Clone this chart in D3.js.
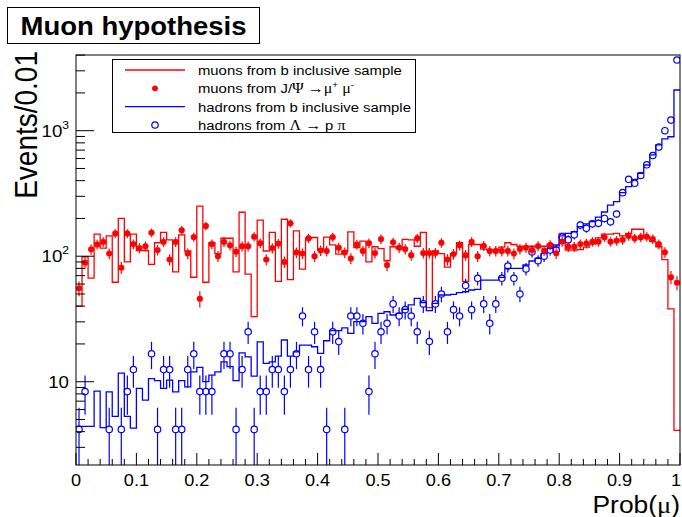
<!DOCTYPE html>
<html>
<head>
<meta charset="utf-8">
<script src="https://cdn.jsdelivr.net/npm/d3@7"></script>
<style>
  html, body { margin: 0; padding: 0; background: #fff; }
  svg { display: block; }
  text { font-family: "Liberation Sans", Arial, Helvetica, sans-serif; fill: #000; }
  .greek { font-family: "Liberation Serif", "DejaVu Serif", serif; }
</style>
</head>
<body>
<svg id="chart" width="682" height="517"></svg>
<script>
// Prob(mu) distribution, 100 bins of width 0.01 on [0, 1]

// muons from b inclusive sample (histogram outline)
const muonsBInclusive = [
  40, 99, 67, 150, 116, 145, 62, 200, 90, 150,
  111, 111, 86, 128, 155, 135, 75, 148, 110, 68,
  251, 62, 128, 105, 139, 139, 75, 224, 72, 33,
  194, 110, 155, 63, 197, 65, 159, 79, 139, 141,
  112, 142, 123, 104, 110, 156, 117, 132, 90, 119,
  115, 92, 119, 115, 136, 135, 120, 155, 39, 110,
  105, 82, 105, 128, 63, 124, 124, 114, 112, 112,
  118, 128, 124, 120, 118, 120, 118, 120, 125, 118,
  152, 112, 112, 113, 118, 125, 140, 150, 150, 152,
  145, 152, 164, 164, 143, 131, 119, 94, 38, 4.1
];

// muons from J/Psi -> mu+ mu- (filled markers)
const muonsJpsi = [
  55.5, 88.8, 113.5, 124, 130, 105, 152, 81, 152, 125,
  116, 120, 154, 112, 130, 94, 130, 161, 105, 142,
  45.8, 174, 125, 100, 130, 122, 108.6, 120, 120, 143,
  127, 94, 116, 126, 90, 183, 107, 105, 139, 100,
  111, 110, 142, 117, 107, 96, 124, 110, 127, 106,
  137, 85, 129, 117, 114, 102, 139, 106, 106, 106,
  128, 94, 104, 122, 102, 130, 100, 121, 110, 110,
  110, 110, 105, 114, 117, 112, 120.5, 110.7, 122.8, 105.4,
  130.6, 119, 119, 125, 126.7, 130.6, 130.6, 141.6, 130.6, 133,
  135, 145, 139, 141.6, 143, 137, 124.5, 107.4, 68, 61.5
];

// hadrons from b inclusive sample (histogram outline)
const hadronsBInclusive = [
  4.4, 4.4, 4.4, 8.4, 4.3, 8.3, 5.3, 11.7, 5.3, 4.27,
  8.85, 7.14, 10.6, 10.2, 8.85, 10.3, 8.3, 10.2, 9.1, 12.0,
  13.0, 10.0, 11.3, 12.0, 14.4, 13.2, 10.2, 17.0, 15.8, 11.1,
  20.8, 14.0, 14.4, 16.0, 21.5, 16.0, 17.3, 19.6, 19.6, 19.0,
  16.8, 21.2, 25.5, 25.5, 26.9, 24.3, 30.1, 30.1, 33.0, 29.2,
  35.1, 36.1, 34.0, 35.1, 37.8, 40.9, 46.2, 42.6, 36.8, 42.1,
  49.1, 49.1, 49.7, 51.2, 52.1, 53.8, 54.5, 64.6, 64.6, 64.6,
  67.9, 80.1, 80.1, 80.1, 85.1, 91.6, 96.2, 105.4, 115.6, 122.8,
  145, 152, 157, 172, 181, 189, 205, 225, 255, 272,
  321, 358, 410, 458, 533, 641, 770, 860, 895, 2110
];

// hadrons from Lambda -> p pi (open markers); empty bins are 0
const hadronsLambda = [
  4.17, 8.34, 0, 0, 0, 4.17, 0, 4.17, 8.34, 12.5,
  0, 0, 16.7, 4.17, 12.5, 12.5, 4.17, 4.17, 12.5, 16.7,
  8.34, 8.34, 8.34, 0, 16.7, 16.7, 4.17, 12.5, 25, 4.17,
  8.34, 8.34, 12.5, 12.5, 8.34, 12.5, 16.7, 33.4, 12.5, 25,
  12.5, 4.17, 25, 20.9, 4.17, 33.4, 33.4, 29.2, 8.34, 16.7,
  25, 29.2, 41.7, 33.4, 37.5, 33.4, 25, 41.7, 20.9, 41.7,
  50, 25, 37.5, 33.4, 58.4, 37.5, 66.7, 41.7, 29.2, 41.7,
  66.7, 83.4, 66.7, 50, 79.2, 108, 92, 100, 112, 112,
  142, 135, 148, 177, 167, 181, 183, 200, 188, 217,
  321, 410, 381, 440, 535, 634, 740, 1000, 1215, 3660
];

const xTickValues = [0, 0.1, 0.2, 0.3, 0.4, 0.5, 0.6, 0.7, 0.8, 0.9, 1];
const xTickLabels = ["0", "0.1", "0.2", "0.3", "0.4", "0.5", "0.6", "0.7", "0.8", "0.9", "1"];
const yTickValues = [10, 100, 1000];
const yTickBase = ["10", "10", "10"];
const yTickExponent = ["", "2", "3"];

// legend entries as [text, isGreek, isSuperscript] pieces
const legendLabels = [
  [["muons from b inclusive sample", 0, 0]],
  [["muons from J/", 0, 0], ["\u03A8", 1, 0], [" \u2192", 1, 0], ["\u03BC", 1, 0], ["+", 0, 1], [" ", 0, 0], ["\u03BC", 1, 0], ["-", 0, 1]],
  [["hadrons from b inclusive sample", 0, 0]],
  [["hadrons from ", 0, 0], ["\u039B", 1, 0], [" \u2192 ", 1, 0], ["p ", 0, 0], ["\u03C0", 1, 0]]
];

const RED = "#ff0000";
const BLUE = "#0000ff";
const SX = 1.1;            // horizontal text stretch of the canvas
const NB = 100;

const svg = d3.select("#chart");
const frame = { left: 76, right: 680, top: 55, bottom: 465 };

const x = d3.scaleLinear().domain([0, 1]).range([frame.left, frame.right]);
const y = d3.scaleLog().domain([2.17, 4010]).range([frame.bottom, frame.top]);

svg.append("rect").attr("width", 682).attr("height", 517).attr("fill", "#fff");

svg.append("defs").append("clipPath").attr("id", "frameClip")
  .append("rect")
  .attr("x", frame.left).attr("y", frame.top)
  .attr("width", frame.right - frame.left).attr("height", frame.bottom - frame.top);

const plot = svg.append("g").attr("clip-path", "url(#frameClip)");

// text with the canvas' horizontal stretch
function stretched(parent, px, py, anchor, size, weight, rotate) {
  const g = parent.append("g")
    .attr("transform", `translate(${px},${py}) scale(${SX},1)` + (rotate ? ` rotate(${rotate})` : ""));
  return g.append("text")
    .attr("text-anchor", anchor)
    .attr("font-size", size)
    .attr("font-weight", weight || "normal");
}

// histogram outlines
const stepLine = d3.line()
  .x(d => x(d[0]))
  .y(d => y(Math.max(d[1], 0.01)))
  .curve(d3.curveStepAfter);

function histPoints(vals) {
  const pts = vals.map((v, i) => [i / NB, v]);
  pts.push([1, vals[vals.length - 1]]);
  return pts;
}

plot.append("path")
  .attr("d", stepLine(histPoints(muonsBInclusive)))
  .attr("fill", "none").attr("stroke", RED).attr("stroke-width", 1.3);

plot.append("path")
  .attr("d", stepLine(histPoints(hadronsBInclusive)))
  .attr("fill", "none").attr("stroke", BLUE).attr("stroke-width", 1.3);

// markers with statistical error bars
function markerSeries(vals, color, filled, r) {
  const data = vals.map((v, i) => ({ c: (i + 0.5) / NB, v })).filter(d => d.v > 0);
  const g = plot.append("g");
  data.forEach(d => {
    const e = Math.sqrt(d.v);
    const cx = x(d.c), cy = y(d.v);
    const yHi = y(d.v + e);
    const lo = d.v - e;
    const yLo = lo > y.domain()[0] ? y(lo) : frame.bottom + 2;
    if (cy - r > yHi) {
      g.append("line").attr("x1", cx).attr("x2", cx).attr("y1", yHi).attr("y2", cy - r)
        .attr("stroke", color).attr("stroke-width", 1.2);
    }
    if (yLo > cy + r) {
      g.append("line").attr("x1", cx).attr("x2", cx).attr("y1", cy + r).attr("y2", yLo)
        .attr("stroke", color).attr("stroke-width", 1.2);
    }
  });
  g.selectAll("circle").data(data).join("circle")
    .attr("cx", d => x(d.c)).attr("cy", d => y(d.v)).attr("r", r)
    .attr("fill", filled ? color : "none")
    .attr("stroke", color).attr("stroke-width", filled ? 0.5 : 1.2);
}

markerSeries(hadronsLambda, BLUE, false, 3.2);
markerSeries(muonsJpsi, RED, true, 2.9);

// frame
svg.append("rect")
  .attr("x", frame.left).attr("y", frame.top)
  .attr("width", frame.right - frame.left).attr("height", frame.bottom - frame.top)
  .attr("fill", "none").attr("stroke", "#000").attr("stroke-width", 1);

// x axis: ticks every 0.02, labels every 0.1
const xAxisG = svg.append("g");
d3.range(0, 51).forEach(k => {
  const v = k / 50;
  const major = k % 5 === 0;
  const px = x(v);
  xAxisG.append("line").attr("x1", px).attr("x2", px)
    .attr("y1", frame.bottom).attr("y2", frame.bottom - (major ? 12 : 6))
    .attr("stroke", "#000").attr("stroke-width", 1);
});
xTickValues.forEach((v, i) => {
  const px = Math.min(x(v), 676);
  stretched(xAxisG, px, 486, "middle", 16.5).text(xTickLabels[i]);
});

// y axis: logarithmic ticks
const yAxisG = svg.append("g");
const [ymin, ymax] = y.domain();
for (let dec = 1; dec <= 1000; dec *= 10) {
  for (let m = 1; m <= 9; m++) {
    const v = m * dec;
    if (v < ymin || v > ymax) continue;
    const py = y(v);
    yAxisG.append("line").attr("x1", frame.left).attr("x2", frame.left + (m === 1 ? 18 : 9))
      .attr("y1", py).attr("y2", py).attr("stroke", "#000").attr("stroke-width", 1);
  }
}
yTickValues.forEach((v, i) => {
  const t = stretched(yAxisG, 69, y(v) + 6, "end", 17);
  t.append("tspan").text(yTickBase[i]);
  if (yTickExponent[i]) {
    t.append("tspan").attr("font-size", 11).attr("dy", -8).text(yTickExponent[i]);
  }
});

// axis titles
const xTitle = stretched(svg, 680, 513, "end", 24);
xTitle.append("tspan").text("Prob(");
xTitle.append("tspan").attr("class", "greek").text("\u03BC");
xTitle.append("tspan").text(")");
stretched(svg, 37, 51, "end", 28, "normal", -90).text("Events/0.01");

// title box
svg.append("rect").attr("x", 7.5).attr("y", 7.5).attr("width", 252).attr("height", 36)
  .attr("fill", "#fff").attr("stroke", "#000").attr("stroke-width", 1);
stretched(svg, 133.5, 34.5, "middle", 25, "bold").text("Muon hypothesis");

// legend
const legend = svg.append("g");
legend.append("rect").attr("x", 112.5).attr("y", 59.5).attr("width", 303).attr("height", 73)
  .attr("fill", "#fff").attr("stroke", "#000").attr("stroke-width", 1);
const rowY = [70, 88.3, 106.7, 125];
legend.append("line").attr("x1", 125).attr("x2", 185).attr("y1", rowY[0]).attr("y2", rowY[0])
  .attr("stroke", RED).attr("stroke-width", 1.3);
legend.append("circle").attr("cx", 155).attr("cy", rowY[1]).attr("r", 2.9).attr("fill", RED);
legend.append("line").attr("x1", 125).attr("x2", 185).attr("y1", rowY[2]).attr("y2", rowY[2])
  .attr("stroke", BLUE).attr("stroke-width", 1.3);
legend.append("circle").attr("cx", 155).attr("cy", rowY[3]).attr("r", 3.2)
  .attr("fill", "none").attr("stroke", BLUE).attr("stroke-width", 1.2);

legendLabels.forEach((pieces, i) => {
  const t = stretched(legend, 198, rowY[i] + 5, "start", 13.5);
  let raised = false;
  pieces.forEach(([txt, greek, sup]) => {
    const s = t.append("tspan").text(txt);
    if (greek) s.attr("class", "greek").attr("font-size", 14.5);
    if (sup && !raised) { s.attr("font-size", 9).attr("dy", -5); raised = true; }
    else if (!sup && raised) { s.attr("dy", 5); raised = false; }
    else if (sup) s.attr("font-size", 9);
  });
});
</script>
</body>
</html>
